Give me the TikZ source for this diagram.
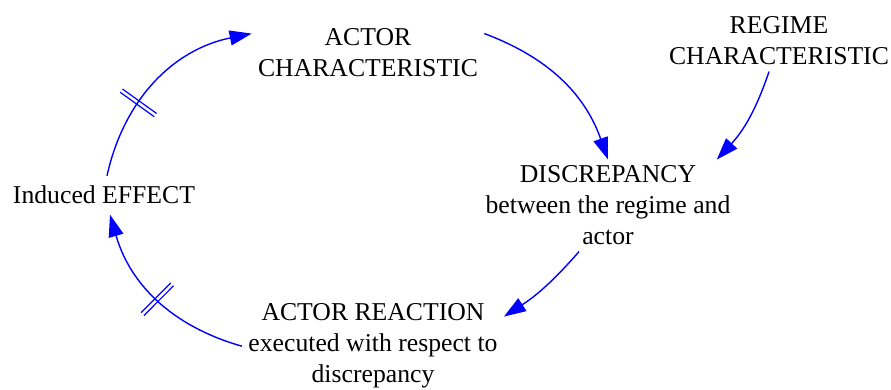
\documentclass[tikz,border=0pt]{standalone}
\usepackage{fontspec}
\setmainfont{Liberation Serif}
\usetikzlibrary{arrows.meta,decorations.markings}

\begin{document}
\begin{tikzpicture}[x=0.5pt, y=0.5pt,
  var/.style={align=center, anchor=base, inner sep=3pt, font=\fontsize{12.85}{15.5}\selectfont},
  link/.style={-{Triangle[length=11pt,width=7.5pt]}, blue, line width=0.7pt},
  delay/.style={postaction={decorate}, decoration={markings, mark=at position #1 with {\draw[-, blue, line width=0.6pt] (-1pt,-10.5pt) -- (-1pt,10.5pt) (1pt,-10.5pt) -- (1pt,10.5pt);}}}]
\useasboundingbox (0,0) rectangle (891,390);

\node[var] (act) at (368,313) {ACTOR\\CHARACTERISTIC};
\node[var] (reg) at (779,325) {REGIME\\CHARACTERISTIC};
\node[var] (dis) at (608,145) {DISCREPANCY\\between the regime and\\actor};
\node[var] (rea) at (373,7) {ACTOR REACTION\\executed with respect to\\discrepancy};
\node[var, inner sep=5pt] (eff) at (104,186) {Induced EFFECT};

\draw[link, delay=0.37] ([xshift=1.5pt]eff.north) to[bend left=33] ([yshift=-5.5pt]act.north west);
\draw[link] ([yshift=-5.5pt]act.north east) to[bend left=25] (dis.north);
\draw[link] ([xshift=-5pt]reg.south) to[bend left=12] ([xshift=-10pt]dis.north east);
\draw[link] ([xshift=-14.5pt]dis.south) to[bend left=8] ([yshift=-9.5pt]rea.north east);
\draw[link, delay=0.5] (rea.west) to[bend left=29] ([xshift=3pt]eff.south);
\end{tikzpicture}
\end{document}
